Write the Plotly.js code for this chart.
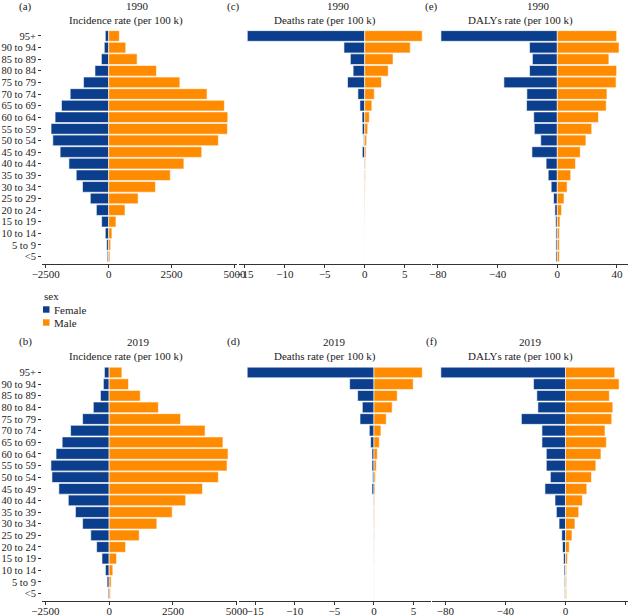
<!DOCTYPE html>
<html>
<head>
<meta charset="utf-8">
<script src="https://cdn.plot.ly/plotly-3.0.1.min.js"></script>
<style>html,body{margin:0;padding:0;background:#fff;}#chart{width:630px;height:616px;}</style>
</head>
<body>
<div id="chart"></div>
<script>
// Age groups, top to bottom
const ageGroups = ["95+","90 to 94","85 to 89","80 to 84","75 to 79","70 to 74","65 to 69","60 to 64","55 to 59","50 to 54","45 to 49","40 to 44","35 to 39","30 to 34","25 to 29","20 to 24","15 to 19","10 to 14","5 to 9","<5"];
const sexLabels = ["Female","Male"];

// Incidence rate (per 100 k)
const incFemale1990 = [-135,-175,-290,-545,-1000,-1530,-1875,-2130,-2290,-2220,-1930,-1580,-1290,-1040,-730,-490,-280,-135,-80,-55];
const incMale1990   = [425,680,1130,1900,2830,3910,4600,4735,4720,4360,3700,2990,2450,1860,1170,650,290,130,80,50];
const incFemale2019 = [-185,-225,-340,-620,-1040,-1510,-1840,-2080,-2280,-2240,-1970,-1600,-1320,-1040,-720,-490,-280,-145,-80,-40];
const incMale2019   = [500,760,1220,1930,2800,3760,4460,4660,4620,4280,3660,3000,2470,1870,1180,645,290,145,80,50];

// Deaths rate (per 100 k)
const dthFemale1990 = [-14.7,-2.6,-1.8,-1.45,-2.15,-0.85,-0.6,-0.33,-0.3,-0.13,-0.3,-0.08,-0.05,-0.04,-0.03,-0.02,-0.02,-0.01,-0.01,-0.01];
const dthMale1990   = [7.2,5.7,3.55,2.95,2.1,1.2,0.9,0.58,0.38,0.25,0.17,0.1,0.07,0.05,0.04,0.03,0.02,0.01,0.01,0.01];
const dthFemale2019 = [-16.0,-3.07,-2.06,-1.47,-1.76,-0.59,-0.42,-0.25,-0.25,-0.17,-0.25,-0.07,-0.05,-0.04,-0.03,-0.02,-0.02,-0.01,-0.01,-0.01];
const dthMale2019   = [6.1,4.96,2.94,2.31,1.55,0.88,0.67,0.42,0.29,0.17,0.13,0.08,0.06,0.05,0.04,0.03,0.02,0.01,0.01,0.01];

// DALYs rate (per 100 k)
const dalFemale1990 = [-78,-18.6,-16.7,-18.6,-35.8,-20.4,-20.6,-15.8,-15.4,-11.1,-17.0,-7.5,-6.1,-4.1,-2.5,-1.6,-1.1,-0.9,-0.9,-0.9];
const dalMale1990   = [39.8,41.4,34.6,39.8,39.4,33.3,32.8,27.6,23.1,19.2,15.4,12.2,9.0,6.6,4.5,2.9,1.8,1.4,1.4,1.4];
const dalFemale2019 = [-83,-21.3,-19.1,-18.4,-29.4,-15.7,-15.7,-12.8,-12.8,-10.1,-13.7,-7.0,-6.1,-4.3,-2.5,-2.0,-1.3,-0.9,-0.7,-0.5];
const dalMale2019   = [32.8,35.7,29.2,31.5,30.8,26.3,27.2,23.6,20.2,17.3,14.2,11.2,8.8,6.3,4.3,2.5,1.3,0.7,0.7,0.7];

// Tick labels
const incTicks = [-2500,0,2500,5000];
const dthTicks = [-15,-10,-5,0,5];
const dalTicks = [-80,-40,0,40];

const W = 630, H = 616;
const px = x => x / W;
const py = y => 1 - y / H;
const colF = "#0b3e8c", colM = "#ff8c00";
const fontFam = "Liberation Serif, Times New Roman, serif";
const txtCol = "#222";

function fmt(v){ return v < 0 ? "\u2212" + Math.abs(v) : String(v); }
function esc(s){ return s.replace(/&/g, "&amp;").replace(/</g, "&lt;").replace(/>/g, "&gt;"); }

const panels = [
  {f: incFemale1990, m: incMale1990, xa: "x",  ya: "y",  ticks: incTicks, range: [-2650, 5100]},
  {f: dthFemale1990, m: dthMale1990, xa: "x2", ya: "y2", ticks: dthTicks, range: [-15.8, 8.3]},
  {f: dalFemale1990, m: dalMale1990, xa: "x3", ya: "y3", ticks: dalTicks, range: [-84, 47.4]},
  {f: incFemale2019, m: incMale2019, xa: "x4", ya: "y4", ticks: incTicks, range: [-2630, 5010]},
  {f: dthFemale2019, m: dthMale2019, xa: "x5", ya: "y5", ticks: dthTicks, range: [-17.1, 7.2]},
  {f: dalFemale2019, m: dalMale2019, xa: "x6", ya: "y6", ticks: dalTicks, range: [-88.9, 41.6]}
];

const nCat = ageGroups.length;
const xDomains = [[px(42), px(237)], [px(238.5), px(431)], [px(432), px(628)]];
const yDomains = [[py(263.5), py(29)], [py(600.5), py(365.5)]];

const traces = [];
const layout = {
  width: W, height: H,
  margin: {l: 0, r: 0, t: 0, b: 0},
  paper_bgcolor: "#fff", plot_bgcolor: "#fff",
  barmode: "relative",
  showlegend: false,
  font: {family: fontFam, size: 10.5, color: txtCol},
  annotations: [], shapes: []
};

panels.forEach((p, i) => {
  [[p.f, sexLabels[0], colF], [p.m, sexLabels[1], colM]].forEach(([vals, name, col]) => {
    traces.push({
      type: "bar", orientation: "h", name: name,
      x: vals, y: ageGroups,
      xaxis: p.xa, yaxis: p.ya,
      width: 0.92,
      marker: {color: col, line: {color: "#ffffff", width: 0.6}},
      hoverinfo: "x+y+name"
    });
  });
  const col = i % 3, row = Math.floor(i / 3);
  const xk = "xaxis" + (i === 0 ? "" : i + 1);
  const yk = "yaxis" + (i === 0 ? "" : i + 1);
  layout[xk] = {
    domain: xDomains[col], anchor: p.ya,
    range: p.range, showgrid: false, zeroline: false,
    showline: true, linecolor: "#333", linewidth: 1,
    ticks: "outside", ticklen: 3, tickcolor: "#333", tickwidth: 1,
    ticklabelstandoff: -3,
    tickmode: "array", tickvals: p.ticks, ticktext: p.ticks.map(fmt),
    tickfont: {family: fontFam, size: 11, color: txtCol},
    fixedrange: true
  };
  layout[yk] = {
    domain: yDomains[row], anchor: p.xa,
    type: "category", categoryorder: "array", categoryarray: ageGroups,
    tickmode: "array", tickvals: ageGroups, ticktext: ageGroups.map(esc),
    range: [nCat - 1 + 0.6, -0.6], showgrid: false, zeroline: false, showline: false,
    showticklabels: col === 0, ticks: col === 0 ? "outside" : "",
    ticklen: 3, tickcolor: "#333", tickwidth: 1,
    tickfont: {family: fontFam, size: 10.5, color: txtCol},
    fixedrange: true
  };
});

// Panel titles
const titleInfo = [
  {lab: "(a)", lx: 25,  yr: "1990", yx: 137, sub: "Incidence rate (per 100 k)", sx: 126, y1: 6.5, y2: 20.5},
  {lab: "(c)", lx: 233, yr: "1990", yx: 338, sub: "Deaths rate (per 100 k)",    sx: 325, y1: 6.5, y2: 20.5},
  {lab: "(e)", lx: 431, yr: "1990", yx: 538, sub: "DALYs rate (per 100 k)",     sx: 520, y1: 6.5, y2: 20.5},
  {lab: "(b)", lx: 25,  yr: "2019", yx: 138, sub: "Incidence rate (per 100 k)", sx: 126, y1: 341.5, y2: 356},
  {lab: "(d)", lx: 233, yr: "2019", yx: 334, sub: "Deaths rate (per 100 k)",    sx: 325, y1: 341.5, y2: 356},
  {lab: "(f)", lx: 431, yr: "2019", yx: 530, sub: "DALYs rate (per 100 k)",     sx: 520, y1: 341.5, y2: 356}
];
titleInfo.forEach(t => {
  [[t.lab, t.lx, t.y1], [t.yr, t.yx, t.y1], [t.sub, t.sx, t.y2]].forEach(([txt, x, y]) => {
    layout.annotations.push({
      text: txt, xref: "paper", yref: "paper", x: px(x), y: py(y),
      xanchor: "center", yanchor: "middle", showarrow: false,
      font: {family: fontFam, size: 11, color: txtCol}
    });
  });
});

// Legend (manual, small keys)
layout.annotations.push({text: "sex", xref: "paper", yref: "paper", x: px(42), y: py(296.5),
  xanchor: "left", yanchor: "middle", showarrow: false, font: {family: fontFam, size: 11, color: txtCol}});
[[sexLabels[0], colF, 309.5], [sexLabels[1], colM, 322.5]].forEach(([name, c, y]) => {
  layout.shapes.push({type: "rect", xref: "paper", yref: "paper",
    x0: px(43), x1: px(49.5), y0: py(y + 3.2), y1: py(y - 3.2),
    fillcolor: c, line: {width: 0}});
  layout.annotations.push({text: name, xref: "paper", yref: "paper", x: px(52), y: py(y),
    xanchor: "left", yanchor: "middle", showarrow: false, font: {family: fontFam, size: 11, color: txtCol}});
});

Plotly.newPlot("chart", traces, layout, {displayModeBar: false, staticPlot: true});
</script>
</body>
</html>
